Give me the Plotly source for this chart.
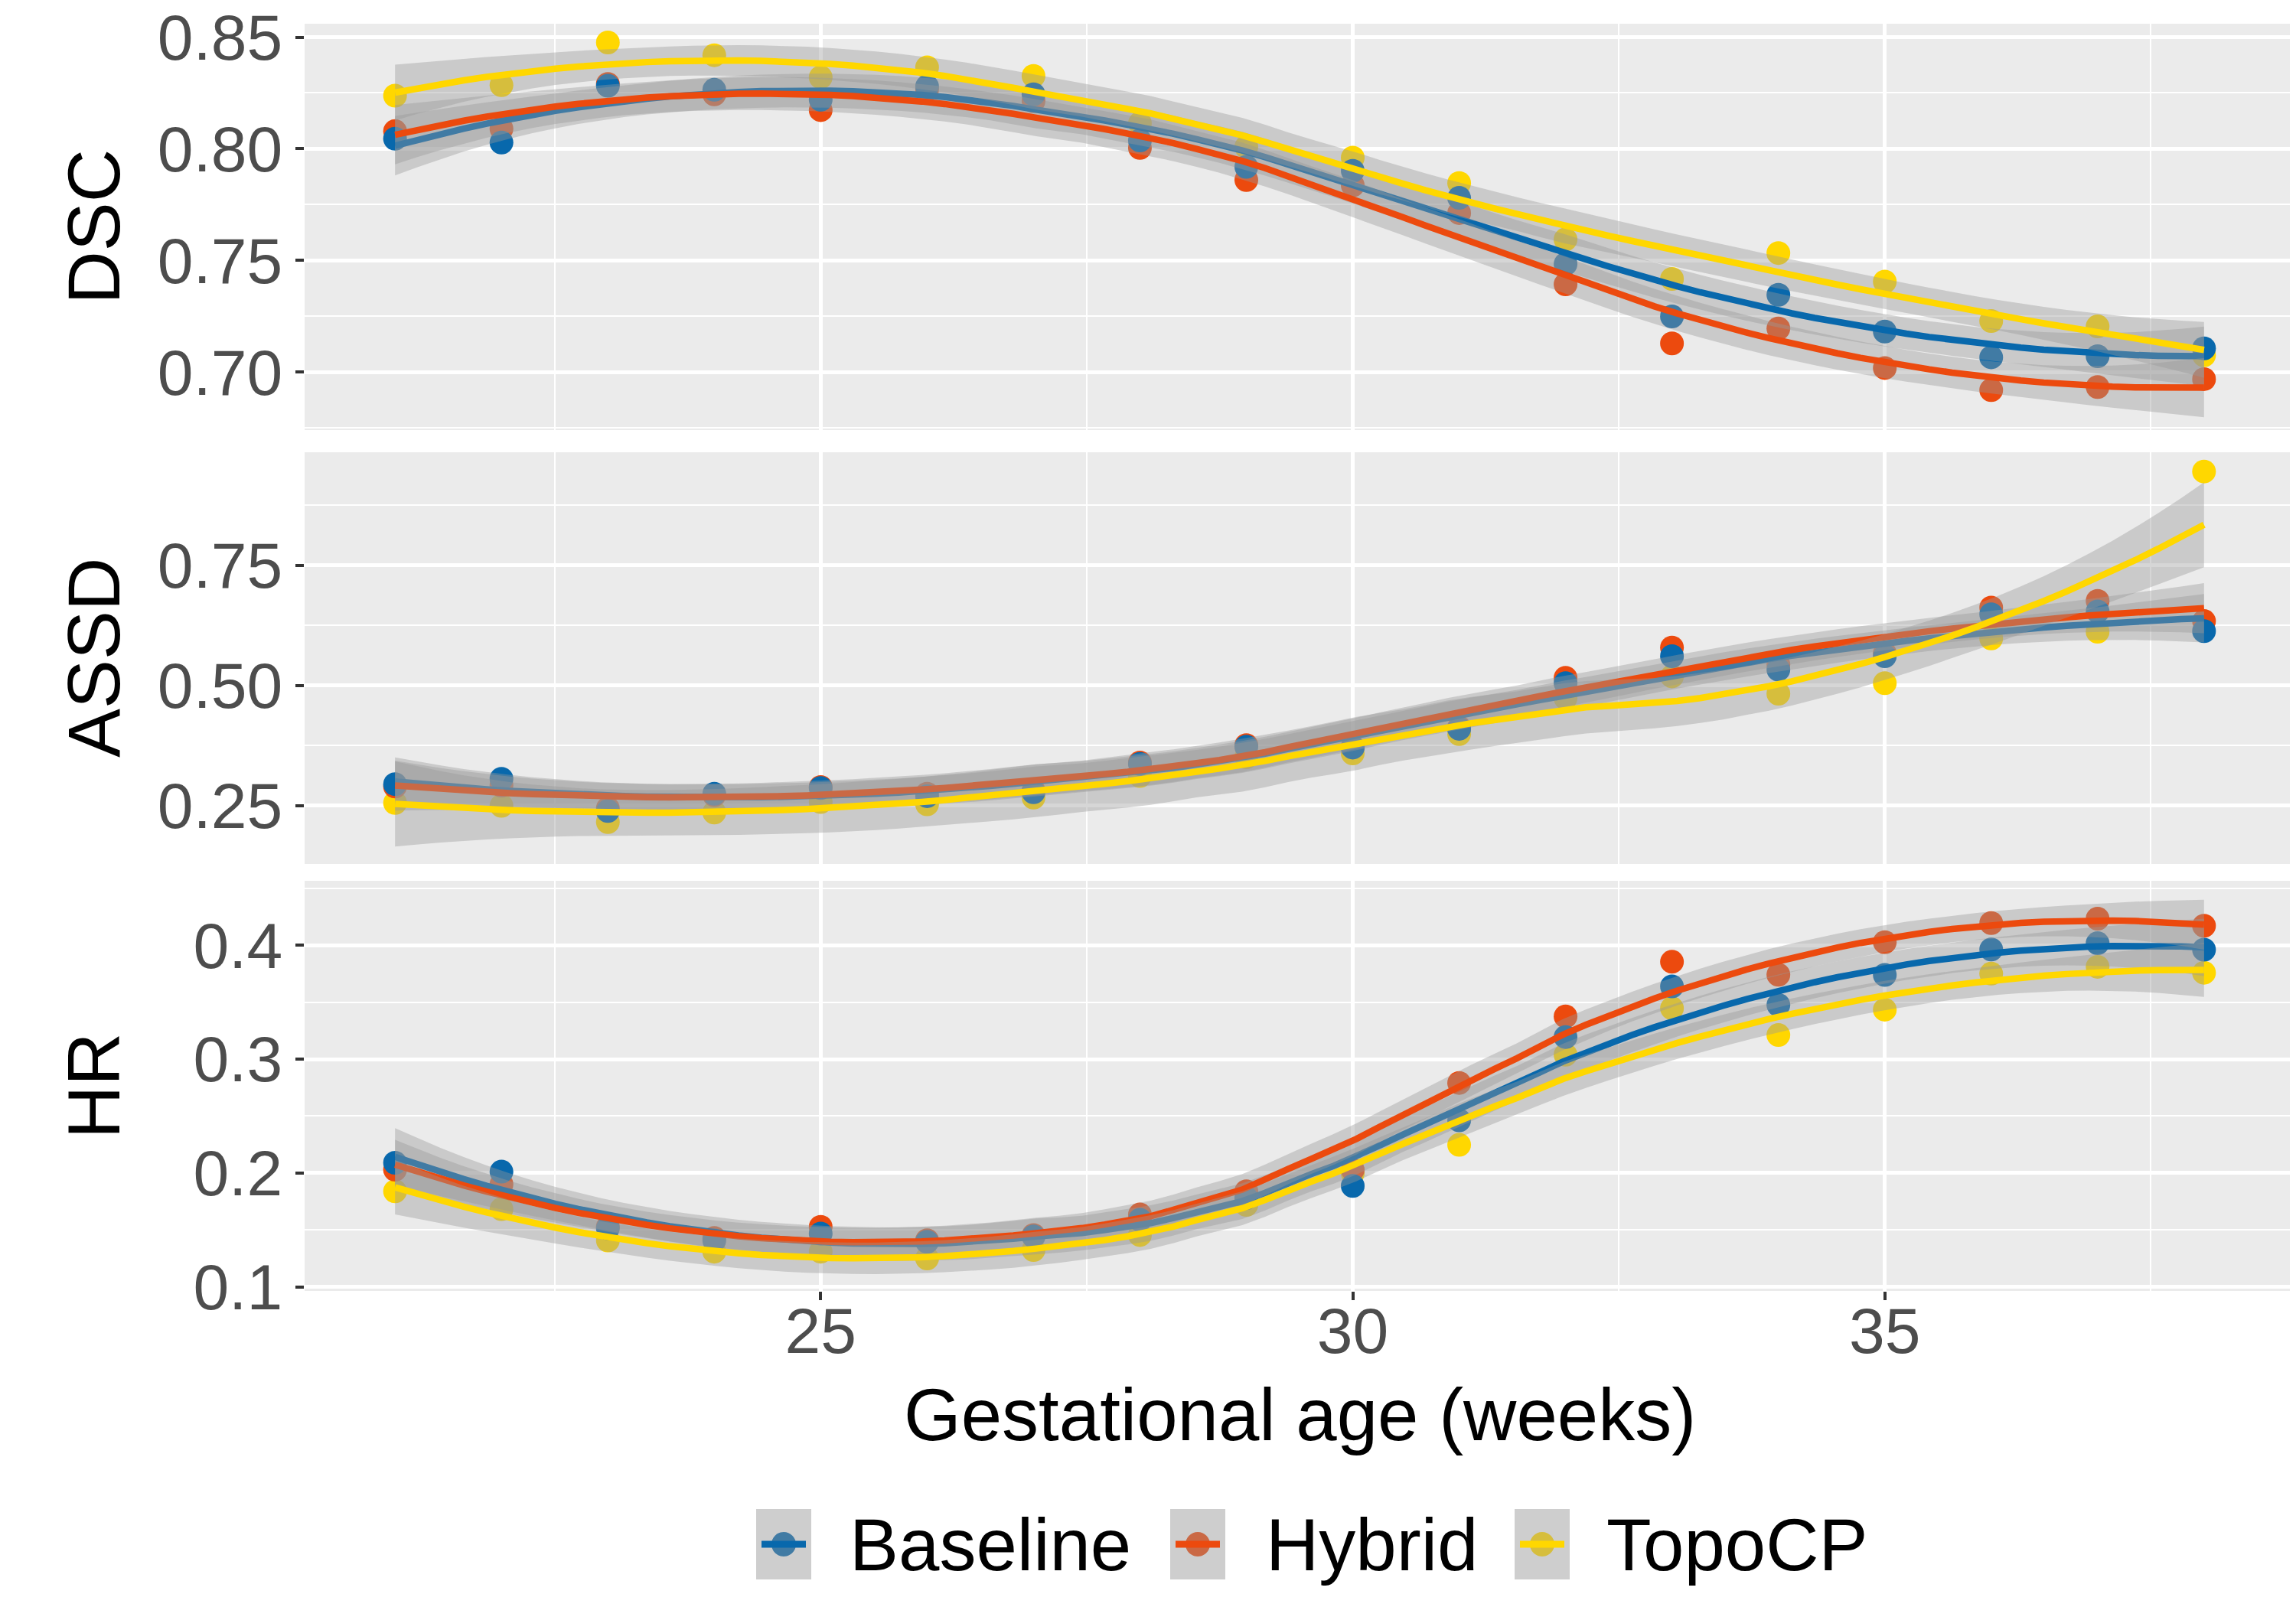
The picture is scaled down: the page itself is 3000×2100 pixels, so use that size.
import numpy as np
import plotly.graph_objects as go
from plotly.subplots import make_subplots

# ---------------- data ----------------
weeks = [21, 22, 23, 24, 25, 26, 27, 28, 29, 30, 31, 32, 33, 34, 35, 36, 37, 38]
methods = ["Baseline", "Hybrid", "TopoCP"]
metrics = ["DSC", "ASSD", "HR"]

dsc_baseline = [0.8045, 0.8028, 0.8282, 0.8264, 0.8220, 0.8279, 0.8244, 0.8037, 0.7919,
                0.7901, 0.7780, 0.7484, 0.7249, 0.7346, 0.7181, 0.7066, 0.7071, 0.7106]
dsc_hybrid = [0.8079, 0.8090, 0.8290, 0.8244, 0.8173, 0.8265, 0.8214, 0.8004, 0.7860,
              0.7836, 0.7712, 0.7393, 0.7128, 0.7195, 0.7018, 0.6919, 0.6933, 0.6968]
dsc_topocp = [0.8238, 0.8285, 0.8476, 0.8419, 0.8320, 0.8365, 0.8326, 0.8114, 0.8008,
              0.7960, 0.7846, 0.7594, 0.7417, 0.7533, 0.7405, 0.7228, 0.7204, 0.7075]

assd_baseline = [0.295, 0.306, 0.239, 0.275, 0.287, 0.270, 0.278, 0.337, 0.373,
                 0.371, 0.410, 0.505, 0.561, 0.533, 0.561, 0.648, 0.654, 0.613]
assd_hybrid = [0.290, 0.292, 0.245, 0.272, 0.289, 0.275, 0.282, 0.340, 0.376,
               0.373, 0.413, 0.516, 0.579, 0.544, 0.567, 0.662, 0.676, 0.634]
assd_topocp = [0.256, 0.250, 0.216, 0.236, 0.258, 0.253, 0.267, 0.312, 0.351,
               0.359, 0.399, 0.474, 0.519, 0.483, 0.505, 0.598, 0.612, 0.945]

hr_baseline = [0.2090, 0.2012, 0.1516, 0.1408, 0.1468, 0.1396, 0.1444, 0.1590, 0.1780,
               0.1887, 0.2463, 0.3194, 0.3638, 0.3475, 0.3739, 0.3962, 0.4017, 0.3960]
hr_hybrid = [0.2030, 0.1900, 0.1530, 0.1430, 0.1528, 0.1410, 0.1456, 0.1636, 0.1840,
             0.2030, 0.2791, 0.3374, 0.3854, 0.3740, 0.4026, 0.4194, 0.4233, 0.4170]
hr_topocp = [0.1840, 0.1683, 0.1408, 0.1310, 0.1310, 0.1250, 0.1324, 0.1456, 0.1720,
             0.2000, 0.2247, 0.3038, 0.3446, 0.3211, 0.3434, 0.3750, 0.3810, 0.3758]

x_tickvals = [25, 30, 35]
dsc_ticks = [0.70, 0.75, 0.80, 0.85]
assd_ticks = [0.25, 0.50, 0.75]
hr_ticks = [0.1, 0.2, 0.3, 0.4]

series = {
    "DSC": {"Baseline": dsc_baseline, "Hybrid": dsc_hybrid, "TopoCP": dsc_topocp},
    "ASSD": {"Baseline": assd_baseline, "Hybrid": assd_hybrid, "TopoCP": assd_topocp},
    "HR": {"Baseline": hr_baseline, "Hybrid": hr_hybrid, "TopoCP": hr_topocp},
}

# ---------------- style ----------------
colors = {"Baseline": "#0868AC", "Hybrid": "#EC4A0E", "TopoCP": "#FFD700"}
ribbon_fill = "rgba(153,153,153,0.4)"
FONT = "Liberation Sans, Arial, Helvetica, sans-serif"
W, H = 3000, 2100


# ---------------- loess (span 0.75, degree 2) with 95% CI ----------------
def t_quantile(df, z=1.959963985):
    g1 = (z**3 + z) / 4
    g2 = (5 * z**5 + 16 * z**3 + 3 * z) / 96
    g3 = (3 * z**7 + 19 * z**5 + 17 * z**3 - 15 * z) / 384
    g4 = (79 * z**9 + 776 * z**7 + 1482 * z**5 - 1920 * z**3 - 945 * z) / 92160
    return z + g1 / df + g2 / df**2 + g3 / df**3 + g4 / df**4


def loess_ci(x, y, xnew, span=0.75):
    x = np.asarray(x, float)
    y = np.asarray(y, float)
    n = len(x)
    q = int(np.floor(n * span))

    def row(x0):
        d = np.abs(x - x0)
        h = np.sort(d)[q - 1]
        u = d / h
        w = np.where(u < 1, (1 - u**3) ** 3, 0.0)
        X = np.vstack([np.ones(n), x - x0, (x - x0) ** 2]).T
        XtW = X.T * w
        return np.linalg.solve(XtW @ X, XtW)[0]

    L = np.array([row(v) for v in x])
    Ln = np.array([row(v) for v in xnew])
    fit = Ln @ y
    res = y - L @ y
    M = (np.eye(n) - L).T @ (np.eye(n) - L)
    d1 = np.trace(M)
    d2 = np.trace(M @ M)
    sigma = np.sqrt(res @ res / d1)
    df = d1**2 / d2
    se = sigma * np.sqrt((Ln**2).sum(axis=1))
    tq = t_quantile(df)
    return fit, fit - tq * se, fit + tq * se


xgrid = np.linspace(min(weeks), max(weeks), 80)

fig = make_subplots(rows=3, cols=1, shared_xaxes=True)

point_order = ["TopoCP", "Hybrid", "Baseline"]
for r, metric in enumerate(metrics, start=1):
    for m in point_order:
        fig.add_trace(go.Scatter(x=weeks, y=series[metric][m], mode="markers",
                                 marker=dict(color=colors[m], size=31, line=dict(width=0)),
                                 showlegend=False, hoverinfo="skip"), row=r, col=1)
    for m in methods:
        fit, lo, hi = loess_ci(weeks, series[metric][m], xgrid)
        fig.add_trace(go.Scatter(x=np.concatenate([xgrid, xgrid[::-1]]),
                                 y=np.concatenate([hi, lo[::-1]]),
                                 mode="lines", fill="toself", fillcolor=ribbon_fill,
                                 line=dict(width=0), showlegend=False, hoverinfo="skip"),
                      row=r, col=1)
        fig.add_trace(go.Scatter(x=xgrid, y=fit, mode="lines",
                                 line=dict(color=colors[m], width=8.5),
                                 showlegend=False, hoverinfo="skip"), row=r, col=1)

# ---------------- axes ----------------
x_dom = [390 / W, 2990 / W]
panels_px = [(23, 554), (583, 1121), (1143, 1679)]
y_ranges = [[0.674, 0.856], [0.129, 0.985], [0.0965, 0.4565]]
y_ticks = [dsc_ticks, assd_ticks, hr_ticks]
y_fmt = ["{:.2f}", "{:.2f}", "{:.1f}"]
y_minor = [[0.675, 0.725, 0.775, 0.825], [0.375, 0.625, 0.875], [0.15, 0.25, 0.35, 0.45]]

for i in range(3):
    top, bot = panels_px[i]
    yname = "yaxis" if i == 0 else f"yaxis{i + 1}"
    xname = "xaxis" if i == 0 else f"xaxis{i + 1}"
    fig.layout[yname].update(
        domain=[1 - bot / H, 1 - top / H], range=y_ranges[i], automargin=False,
        tickmode="array", tickvals=y_ticks[i],
        ticktext=[y_fmt[i].format(v) for v in y_ticks[i]],
        ticks="outside", ticklen=11, tickwidth=4, tickcolor="#333333",
        tickfont=dict(family=FONT, size=84, color="#4D4D4D"),
        ticklabeloverflow="allow",
        showgrid=True, gridcolor="white", gridwidth=4.5, zeroline=False, showline=False,
        minor=dict(tickmode="array", tickvals=y_minor[i], showgrid=True,
                   gridcolor="white", gridwidth=2.2, ticklen=0),
    )
    fig.layout[xname].update(
        domain=x_dom, range=[20.15, 38.85], automargin=False,
        tickmode="array", tickvals=x_tickvals, ticktext=[str(v) for v in x_tickvals],
        showticklabels=(i == 2), ticks="outside" if i == 2 else "",
        ticklen=11, tickwidth=4, tickcolor="#333333",
        tickfont=dict(family=FONT, size=84, color="#4D4D4D"),
        ticklabelstandoff=-32,
        showgrid=True, gridcolor="white", gridwidth=4.5, zeroline=False, showline=False,
        minor=dict(tickmode="array", tickvals=[22.5, 27.5, 32.5, 37.5], showgrid=True,
                   gridcolor="white", gridwidth=2.2, ticklen=0),
    )

annotations = []
for i, metric in enumerate(metrics):
    top, bot = panels_px[i]
    annotations.append(dict(text=metric, x=114 / W, y=1 - (top + bot) / 2 / H,
                            xref="paper", yref="paper", showarrow=False, textangle=-90,
                            xanchor="center", yanchor="middle",
                            font=dict(family=FONT, size=96, color="black")))
annotations.append(dict(text="Gestational age (weeks)", x=1690 / W, y=1 - 1840 / H,
                        xref="paper", yref="paper", showarrow=False,
                        xanchor="center", yanchor="middle",
                        font=dict(family=FONT, size=96, color="black")))

# ---------------- legend (ggplot-style keys) ----------------
shapes = []
key_left = [980, 1521, 1971]
text_left = [1100, 1644, 2089]
key_w, key_top, key_bot = 72, 1964, 2056
key_cy = (key_top + key_bot) / 2


def px(xp):
    return xp / W


def py(yp):
    return 1 - yp / H


for m, kl, tl in zip(methods, key_left, text_left):
    cx = kl + key_w / 2
    shapes.append(dict(type="rect", xref="paper", yref="paper", x0=px(kl), x1=px(kl + key_w),
                       y0=py(key_bot), y1=py(key_top), fillcolor="#F2F2F2", line=dict(width=0)))
    shapes.append(dict(type="circle", xref="paper", yref="paper",
                       x0=px(cx - 16), x1=px(cx + 16), y0=py(key_cy + 16), y1=py(key_cy - 16),
                       fillcolor=colors[m], line=dict(width=0)))
    shapes.append(dict(type="rect", xref="paper", yref="paper", x0=px(kl), x1=px(kl + key_w),
                       y0=py(key_bot), y1=py(key_top), fillcolor=ribbon_fill, line=dict(width=0)))
    shapes.append(dict(type="line", xref="paper", yref="paper",
                       x0=px(kl + 7), x1=px(kl + key_w - 7), y0=py(key_cy), y1=py(key_cy),
                       line=dict(color=colors[m], width=9)))
    annotations.append(dict(text=m, x=px(tl), y=py(key_cy), xref="paper", yref="paper",
                            showarrow=False, xanchor="left", yanchor="middle",
                            font=dict(family=FONT, size=96, color="black")))

fig.update_layout(
    width=W, height=H, margin=dict(l=0, r=0, t=0, b=0, autoexpand=False),
    paper_bgcolor="white", plot_bgcolor="#EBEBEB",
    showlegend=False, annotations=annotations, shapes=shapes,
    font=dict(family=FONT),
)

fig.write_html("out.html")
